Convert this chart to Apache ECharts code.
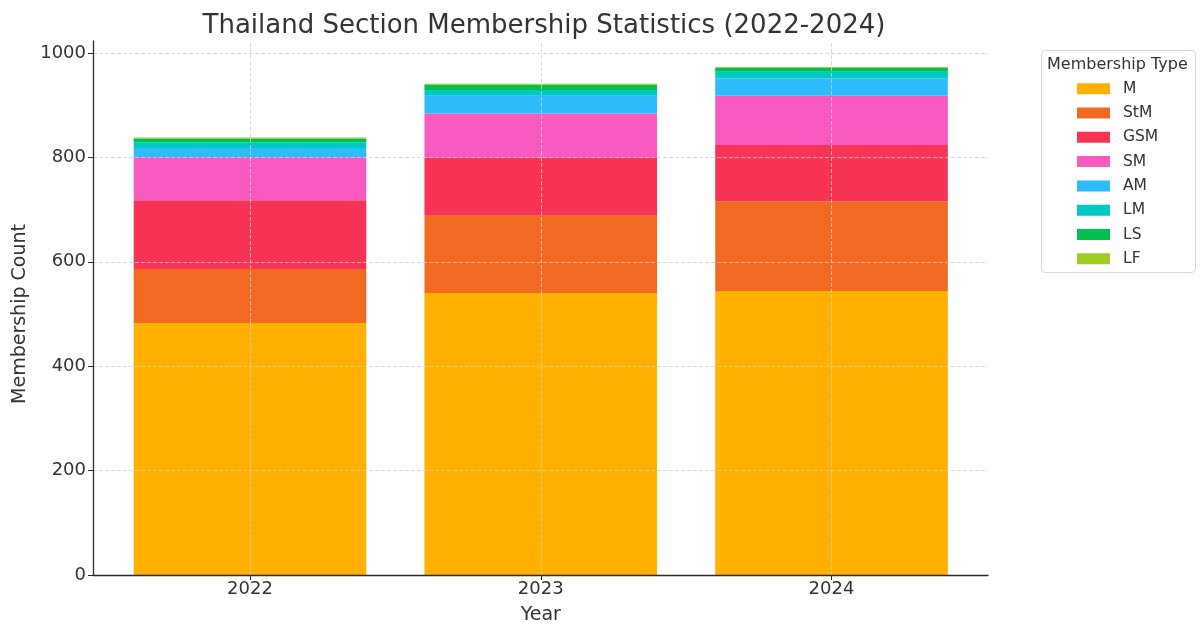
<!DOCTYPE html>
<html><head><meta charset="utf-8">
<script src="https://cdn.jsdelivr.net/npm/echarts@6/dist/echarts.min.js"></script>
<style>html,body{margin:0;padding:0;background:#fff}#c{width:1200px;height:625px}</style>
</head><body><div id="c"></div>
<script>
const years = ['2022', '2023', '2024'];
const types = ['M', 'StM', 'GSM', 'SM', 'AM', 'LM', 'LS', 'LF'];
const M   = [483, 540, 544];
const StM = [103, 148, 172];
const GSM = [132, 111, 108];
const SM  = [83, 85, 94];
const AM  = [17, 34, 33];
const LM  = [11, 11, 13];
const LS  = [7, 10, 8];
const LF  = [2, 2, 1];
const colors = ['#FFB000', '#F26A22', '#F73455', '#F95ABF', '#2CBCFC', '#00C9C3', '#00C050', '#A0CC22'];
const values = [M, StM, GSM, SM, AM, LM, LS, LF];

const FONT = 'DejaVu Sans';
const TXT = '#333';
const AX = '#2b2b2b';
const GRIDC = '#cfcfcf';
const chart = echarts.init(document.getElementById('c'));
const series = types.map((t, i) => ({
  name: t, type: 'bar', stack: 'total', xAxisIndex: 1, yAxisIndex: 1,
  barWidth: 232.6, itemStyle: { color: colors[i] }, data: values[i]
}));
series[series.length - 1].markLine = {
  silent: true, symbol: 'none', z: 10, label: { show: false },
  lineStyle: { color: GRIDC, type: [4, 2], width: 0.8 },
  data: years.map(y => ({ xAxis: y }))
};
chart.setOption({
  animation: false,
  textStyle: { fontFamily: FONT },
  title: {
    text: 'Thailand Section Membership Statistics (2022-2024)',
    left: 539, top: 8, textAlign: 'center',
    textStyle: { fontFamily: FONT, fontSize: 26, fontWeight: 'normal', color: TXT }
  },
  grid: [
    { left: 93, right: 212, top: 53, bottom: 50, outerBoundsMode: 'none', containLabel: false },
    { left: 104.6, right: 223.1, top: 41, bottom: 50, outerBoundsMode: 'none', containLabel: false },
    { left: 93, right: 212, top: 41, height: 12, outerBoundsMode: 'none', containLabel: false }
  ],
  xAxis: [
    { type: 'value', gridIndex: 0, min: 0, max: 1, z: 11, axisLine: { show: true, lineStyle: { color: AX, width: 1.3 } },
      axisTick: { show: false }, axisLabel: { show: false }, splitLine: { show: false } },
    { type: 'category', gridIndex: 1, data: years, axisLine: { show: false },
      axisTick: { show: true, alignWithLabel: true, length: 5, lineStyle: { color: AX } },
      axisLabel: { fontSize: 18, color: TXT, margin: 5, fontFamily: FONT },
      name: 'Year', nameLocation: 'middle', nameGap: 30.5,
      nameTextStyle: { fontSize: 19, color: TXT, fontFamily: FONT } },
    { type: 'value', gridIndex: 2, min: 0, max: 1, show: false }
  ],
  yAxis: [
    { type: 'value', gridIndex: 0, min: 0, max: 1000, interval: 200, z: 10,
      axisLine: { show: true, lineStyle: { color: AX, width: 1.3 } },
      axisTick: { show: true, length: 5, lineStyle: { color: AX } },
      axisLabel: { fontSize: 18, color: TXT, margin: 7, fontFamily: FONT, formatter: v => String(v) },
      splitLine: { show: true, showMinLine: false, lineStyle: { color: GRIDC, type: [4, 2], width: 0.8 } },
      name: 'Membership Count', nameLocation: 'middle', nameGap: 58,
      nameTextStyle: { fontSize: 19, color: TXT, fontFamily: FONT } },
    { type: 'value', gridIndex: 1, min: 0, max: 1023, show: false, splitLine: { show: false } },
    { type: 'value', gridIndex: 2, min: 0, max: 1, axisLine: { show: true, lineStyle: { color: AX, width: 1.3 } },
      axisTick: { show: false }, axisLabel: { show: false }, splitLine: { show: false } }
  ],
  legend: {
    data: types, orient: 'vertical', left: 1072, top: 74.7, icon: 'rect',
    itemWidth: 33, itemHeight: 11, itemGap: 6.3, selectedMode: false,
    textStyle: { fontSize: 15.5, color: TXT, lineHeight: 18, padding: [0, 0, 0, 8], fontFamily: FONT }
  },
  graphic: [
    { type: 'rect', left: 1041, top: 50, shape: { width: 154, height: 222, r: 4 },
      style: { fill: '#fff', stroke: '#d6d6d6', lineWidth: 1 }, z: -1 },
    { type: 'text', left: 1047, top: 57, style: { text: 'Membership Type', fontSize: 16, fill: TXT, fontFamily: FONT } }
  ],
  series: series
});
</script></body></html>
